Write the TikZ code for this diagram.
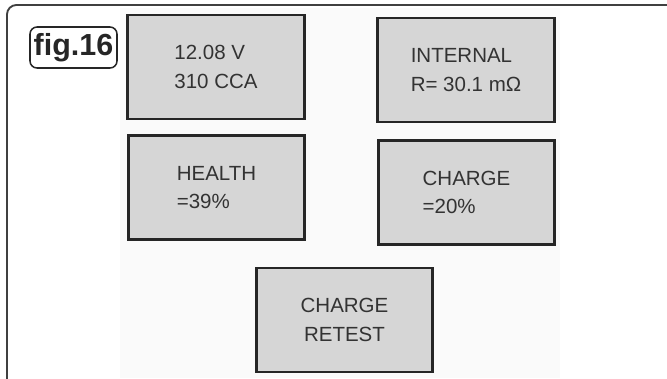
\documentclass[tikz,border=0pt]{standalone}
\usepackage{fontspec}
\setmainfont{Liberation Sans}
\tikzset{
    screen_box/.style={
        rectangle, draw=black!85, line width=2.4pt, fill=black!16,
        minimum width=5.3cm, minimum height=3.12cm,
        align=left, text=black!80, font=\fontsize{17.5}{24.5}\selectfont
    },
    fig_tag/.style={
        rectangle, rounded corners=6pt, draw=black!85, line width=1.3pt,
        minimum width=2.61cm, minimum height=1.23cm, inner sep=0pt,
        font=\fontsize{26}{28}\selectfont\bfseries, text=black!85
    },
    frame_line/.style={draw=black!75, line width=1.6pt, rounded corners=8pt}
}

\begin{document}
\begin{tikzpicture}[x=0.03cm, y=-0.03cm]

    \useasboundingbox (0,0) rectangle (667,378);

    % scanned panel behind the screens
    \fill[black!2] (120,8) rectangle (560,378);

    % outer frame, cut off right and bottom
    \draw[frame_line] (7,385) -- (7,5) -- (675,5);

    \node[fig_tag] (fig) at (73.5,47.5) {fig.16};

    \node[screen_box] (volts)    at (216,67)    {12.08 V\\310 CCA};
    \node[screen_box] (internal) at (466,70)    {INTERNAL\\R= 30.1 mΩ};
    \node[screen_box] (health)   at (216.5,187.5) {HEALTH\\=39\%};
    \node[screen_box] (charge)   at (466.5,192.5) {CHARGE\\=20\%};
    \node[screen_box, align=center] (retest) at (344.5,320) {CHARGE\\RETEST};

\end{tikzpicture}
\end{document}
